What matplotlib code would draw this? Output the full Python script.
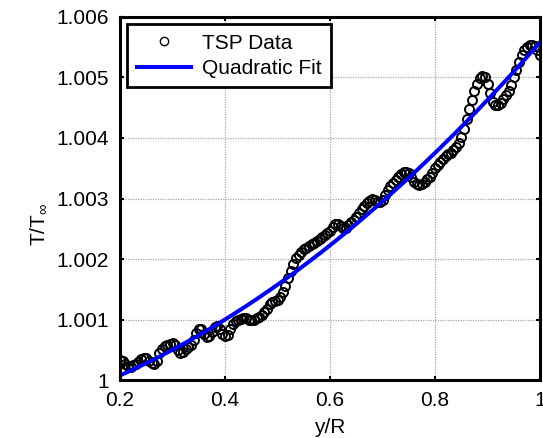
import numpy as np
import matplotlib
matplotlib.use("Agg")
import matplotlib.pyplot as plt

plt.rcParams["font.family"] = ["Liberation Sans", "DejaVu Sans"]
plt.rcParams["mathtext.fontset"] = "custom"
plt.rcParams["mathtext.rm"] = "Liberation Sans"
plt.rcParams["mathtext.it"] = "Liberation Sans:italic"

# TSP temperature ratio along the radius, (T/Tinf - 1) * 1000
y_r = np.round(np.arange(0.200, 1.0001, 0.005), 3)
dT = [
    0.33, 0.32, 0.27, 0.23, 0.22, 0.24, 0.26, 0.30, 0.34, 0.37,
    0.36, 0.32, 0.28, 0.26, 0.32, 0.45, 0.52, 0.56, 0.58, 0.60,
    0.61, 0.58, 0.50, 0.45, 0.46, 0.51, 0.55, 0.58, 0.66, 0.78,
    0.85, 0.84, 0.76, 0.71, 0.72, 0.80, 0.87, 0.89, 0.84, 0.76,
    0.72, 0.75, 0.85, 0.93, 0.97, 0.99, 1.01, 1.02, 1.02, 1.00,
    0.99, 1.00, 1.02, 1.04, 1.07, 1.12, 1.18, 1.25, 1.29, 1.31,
    1.33, 1.38, 1.45, 1.55, 1.68, 1.80, 1.92, 2.01, 2.07, 2.12,
    2.16, 2.19, 2.22, 2.24, 2.27, 2.30, 2.33, 2.36, 2.40, 2.43,
    2.47, 2.53, 2.58, 2.58, 2.54, 2.51, 2.52, 2.56, 2.61, 2.65,
    2.70, 2.76, 2.82, 2.87, 2.92, 2.96, 2.99, 2.98, 2.95, 2.94,
    2.97, 3.05, 3.14, 3.20, 3.26, 3.31, 3.36, 3.40, 3.43, 3.44,
    3.42, 3.35, 3.28, 3.24, 3.22, 3.24, 3.28, 3.32, 3.36, 3.42,
    3.50, 3.56, 3.60, 3.65, 3.70, 3.73, 3.76, 3.80, 3.85, 3.92,
    4.01, 4.15, 4.32, 4.48, 4.62, 4.77, 4.90, 4.99, 5.03, 5.00,
    4.90, 4.74, 4.60, 4.54, 4.55, 4.58, 4.64, 4.71, 4.78, 4.88,
    5.00, 5.12, 5.26, 5.38, 5.46, 5.51, 5.53, 5.54, 5.52, 5.46,
    5.38,
]
t_ratio = 1 + np.array(dT) / 1000.0

# second order least squares fit
coef = np.polyfit(y_r, t_ratio, 2)
x_fit = np.linspace(0.2, 1.0, 200)
t_fit = np.polyval(coef, x_fit)

fig = plt.figure(figsize=(5.43, 4.38), dpi=100)
ax = fig.add_axes([0.221, 0.1324, 0.7735, 0.8288])

ax.plot(y_r, t_ratio, "o", mfc="none", mec="black", ms=6.5, mew=1.4,
        label="TSP Data")
ax.plot(x_fit, t_fit, "-", color=(0, 0, 1), lw=2.9, label="Quadratic Fit")

ax.set_xlim(0.2, 1.0)
ax.set_ylim(1.0, 1.006)
ax.set_xticks([0.2, 0.4, 0.6, 0.8, 1.0])
ax.set_xticklabels(["0.2", "0.4", "0.6", "0.8", "1"])
ax.set_yticks(np.arange(1.0, 1.0061, 0.001))
ax.set_yticklabels(["1", "1.001", "1.002", "1.003", "1.004", "1.005", "1.006"])

ax.grid(True, color="#a8a8a8", linestyle=(0, (1, 1)), linewidth=0.9)
ax.set_axisbelow(True)
ax.tick_params(direction="in", length=3, width=1.5, top=True, right=True,
               labelsize=15, pad=8)
for sp in ax.spines.values():
    sp.set_linewidth(2.2)

ax.set_xlabel("y/R", fontsize=15, labelpad=6)
ax.set_ylabel(r"T/T$_{\infty}$", fontsize=15)
ax.yaxis.set_label_coords(-0.17, 0.43)

leg = ax.legend(loc="upper left", fontsize=15, numpoints=1, handlelength=2.6,
                handletextpad=0.55, borderpad=0.45, labelspacing=0.3,
                borderaxespad=0.35, fancybox=False, framealpha=1)
leg.get_frame().set_edgecolor("black")
leg.get_frame().set_linewidth(2.0)
# legend marker keeps the thin outline
leg.legend_handles[0].set_markeredgewidth(1.0)
leg.legend_handles[0].set_markersize(6)

fig.savefig("out.png", dpi=100)
